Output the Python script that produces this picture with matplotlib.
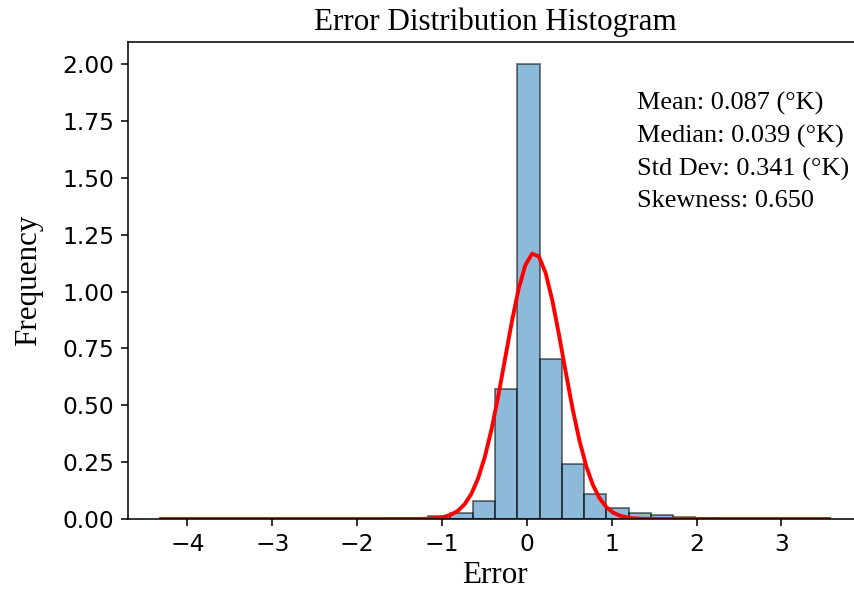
import matplotlib
matplotlib.use("Agg")
import matplotlib.pyplot as plt
import numpy as np

# histogram (density): 30 equal bins between data min and max
data_min, data_max, n_bins = -4.31, 3.56, 30
heights = [0.0, 0.0, 0.0, 0.0, 0.0, 0.0, 0.0, 0.0, 0.0, 0.001,
           0.003, 0.004, 0.012, 0.025, 0.079, 0.570, 2.000, 0.702, 0.242, 0.108,
           0.050, 0.025, 0.016, 0.008, 0.004, 0.0, 0.0, 0.0, 0.0, 0.0]

# summary statistics shown on the chart
mean, median, std, skew = 0.087, 0.039, 0.341, 0.650

SERIF = "Liberation Serif"

fig = plt.figure(figsize=(854 / 140, 592 / 140), dpi=140)
W, H = 854, 592
ax = fig.add_axes([128 / W, (H - 519) / H, (862 - 128) / W, (519 - 41.5) / H])

edges = np.linspace(data_min, data_max, n_bins + 1)
ax.bar(edges[:-1], heights, width=np.diff(edges), align="edge",
       color="#1f77b4", edgecolor="black", alpha=0.5, linewidth=1.0)

# fitted normal curve from the stated mean / std
xs = np.linspace(data_min, data_max, 100)
pdf = np.exp(-0.5 * ((xs - mean) / std) ** 2) / (std * np.sqrt(2 * np.pi))
ax.plot(xs, pdf, color="red", lw=2)

ax.set_xlim(-4.70, 3.95)
ax.set_ylim(0, 2.1)
ax.set_yticks(np.arange(0, 2.01, 0.25))
ax.tick_params(labelsize=12)

ax.set_title("Error Distribution Histogram", fontsize=16, family=SERIF)
ax.set_xlabel("Error", fontsize=16, family=SERIF, labelpad=3)
ax.set_ylabel("Frequency", fontsize=16, family=SERIF, labelpad=10)

txt = (f"Mean: {mean:.3f} (°K)\nMedian: {median:.3f} (°K)\n"
       f"Std Dev: {std:.3f} (°K)\nSkewness: {skew:.3f}")
ax.text(0.693, 0.895, txt, transform=ax.transAxes, ha="left", va="top",
        fontsize=13.5, family=SERIF, linespacing=1.56)

fig.savefig("out.png", dpi=140)
